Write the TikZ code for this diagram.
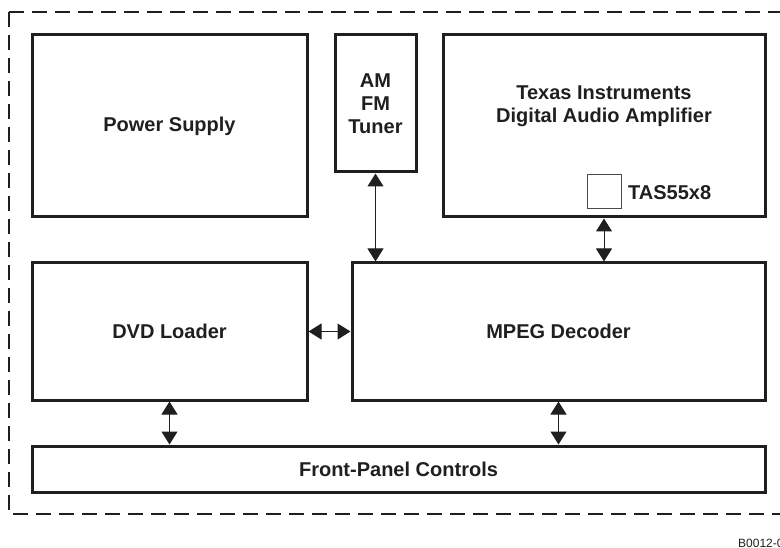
\documentclass[tikz,border=0pt]{standalone}
\usepackage{fontspec}
\setmainfont{Liberation Sans}
\usetikzlibrary{arrows.meta}
\begin{document}
\begin{tikzpicture}[x=1pt,y=-1pt,
  blk/.style={draw=black!88, line width=3pt, rectangle, inner sep=0pt, font=\bfseries\fontsize{20}{23}\selectfont, text=black!88, align=center},
  txt/.style={inner sep=0pt, font=\bfseries\fontsize{20}{23}\selectfont, text=black!88, align=center},
  arr/.style={line width=1pt, draw=black!88, {Triangle[width=16pt,length=13pt]}-{Triangle[width=16pt,length=13pt]}, color=black!88}]
\useasboundingbox (0,0) rectangle (780,548);
\draw[line width=2pt, black!88, dash pattern=on 15pt off 8pt] (9,12) -- (790,12);
\draw[line width=2pt, black!88, dash pattern=on 15pt off 8pt] (9,12) -- (9,514) -- (790,514);
\node[blk, minimum width=275pt, minimum height=182pt] (ps) at (169.5,126) {Power Supply};
\node[blk, minimum width=81pt, minimum height=137pt] (tuner) at (375.5,103.5) {AM\\FM\\Tuner};
\node[blk, minimum width=322pt, minimum height=182pt] (ti) at (604,126) {};
\node[txt] (titxt) at (604,106) {Texas Instruments\\Digital Audio Amplifier};
\node[draw=black!70, line width=1pt, minimum width=34pt, minimum height=34pt, inner sep=0pt] (tas) at (604,192) {};
\node[txt, anchor=west] (taslbl) at (628,193) {TAS55x8};
\node[blk, minimum width=275pt, minimum height=137pt] (dvd) at (169.5,331.5) {DVD Loader};
\node[blk, minimum width=413pt, minimum height=137pt] (mpeg) at (558.5,331.5) {MPEG Decoder};
\node[blk, minimum width=733pt, minimum height=46pt] (fp) at (398.5,469) {Front-Panel Controls};
\draw[arr] (tuner.south) -- (tuner.south |- mpeg.north);
\draw[arr] (tas |- ti.south) -- (tas |- mpeg.north);
\draw[arr] (dvd.east) -- (mpeg.west);
\draw[arr] (dvd.south) -- (dvd.south |- fp.north);
\draw[arr] (mpeg.south) -- (mpeg.south |- fp.north);
\node[anchor=west, inner sep=0pt, font=\fontsize{12}{14}\selectfont, text=black!88] (code) at (738,543) {B0012-01};
\end{tikzpicture}
\end{document}
